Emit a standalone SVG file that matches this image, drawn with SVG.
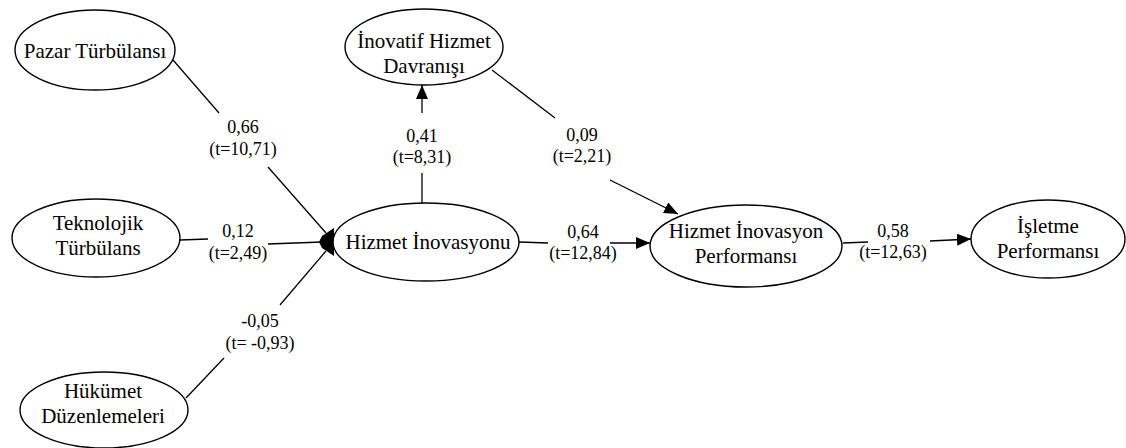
<svg xmlns="http://www.w3.org/2000/svg" width="1126" height="448" viewBox="0 0 1126 448">
<defs>
<marker id="arr" markerUnits="userSpaceOnUse" markerWidth="15" markerHeight="12" refX="14" refY="6" orient="auto">
<path d="M0,0 L14,6 L0,12 z" fill="#000"/>
</marker>
<style>
.node ellipse{fill:#fff;stroke:#000;stroke-width:1.4}
.node text{font-size:21px;text-anchor:middle;fill:#000}
.conn line{stroke:#000;stroke-width:1.3}
.lbl{font-size:18px;text-anchor:middle;fill:#000}
</style>
</defs>
<rect width="1126" height="448" fill="#fff"/>
<g id="connectors" class="conn">
<line x1="173" y1="60" x2="219" y2="113"/>
<line x1="268" y1="167" x2="326" y2="233"/>
<line x1="180" y1="240" x2="208" y2="239"/>
<line x1="268" y1="244" x2="322" y2="242"/>
<line x1="186" y1="398" x2="224" y2="358"/>
<line x1="280" y1="305" x2="326" y2="251"/>
<path d="M334,228 L334,256 L322,248 L319,242 L322,236 Z" fill="#000"/>
<line x1="422" y1="203" x2="422" y2="173"/>
<line x1="422" y1="113" x2="422" y2="85" marker-end="url(#arr)"/>
<line x1="492" y1="70" x2="555" y2="118"/>
<line x1="610" y1="180" x2="678" y2="214" marker-end="url(#arr)"/>
<line x1="519" y1="242" x2="548" y2="243"/>
<line x1="610" y1="243" x2="650" y2="243" marker-end="url(#arr)"/>
<line x1="843" y1="243" x2="868" y2="242"/>
<line x1="930" y1="241" x2="971" y2="239" marker-end="url(#arr)"/>
</g>
<g id="labels" font-family="Liberation Serif, serif">
<text class="lbl" x="243" y="133">0,66</text>
<text class="lbl" x="243" y="155">(t=10,71)</text>
<text class="lbl" x="422" y="142">0,41</text>
<text class="lbl" x="422" y="163">(t=8,31)</text>
<text class="lbl" x="582" y="141">0,09</text>
<text class="lbl" x="582" y="162">(t=2,21)</text>
<text class="lbl" x="238" y="237">0,12</text>
<text class="lbl" x="238" y="259">(t=2,49)</text>
<text class="lbl" x="583" y="238">0,64</text>
<text class="lbl" x="583" y="259">(t=12,84)</text>
<text class="lbl" x="893" y="237">0,58</text>
<text class="lbl" x="893" y="258">(t=12,63)</text>
<text class="lbl" x="260" y="327">-0,05</text>
<text class="lbl" x="260" y="349">(t= -0,93)</text>
</g>
<g id="nodes" font-family="Liberation Serif, serif">
<g id="pazar" class="node"><ellipse cx="95" cy="50" rx="80" ry="40"/><text x="95" y="58">Pazar Türbülansı</text></g>
<g id="inovatif" class="node"><ellipse cx="424" cy="47" rx="79" ry="38"/><text x="424" y="48">İnovatif Hizmet</text><text x="424" y="73">Davranışı</text></g>
<g id="teknolojik" class="node"><ellipse cx="96" cy="238" rx="84" ry="39"/><text x="98" y="230">Teknolojik</text><text x="98" y="255">Türbülans</text></g>
<g id="hizmet" class="node"><ellipse cx="426" cy="242" rx="93" ry="39"/><text x="428" y="249">Hizmet İnovasyonu</text></g>
<g id="hukumet" class="node"><ellipse cx="104" cy="410" rx="84" ry="38"/><text x="103" y="398">Hükümet</text><text x="103" y="423">Düzenlemeleri</text></g>
<g id="hip" class="node"><ellipse cx="746" cy="246" rx="96" ry="41"/><text x="746" y="238">Hizmet İnovasyon</text><text x="746" y="263">Performansı</text></g>
<g id="isletme" class="node"><ellipse cx="1048" cy="239" rx="77" ry="39"/><text x="1048" y="233">İşletme</text><text x="1048" y="258">Performansı</text></g>
</g>
</svg>
